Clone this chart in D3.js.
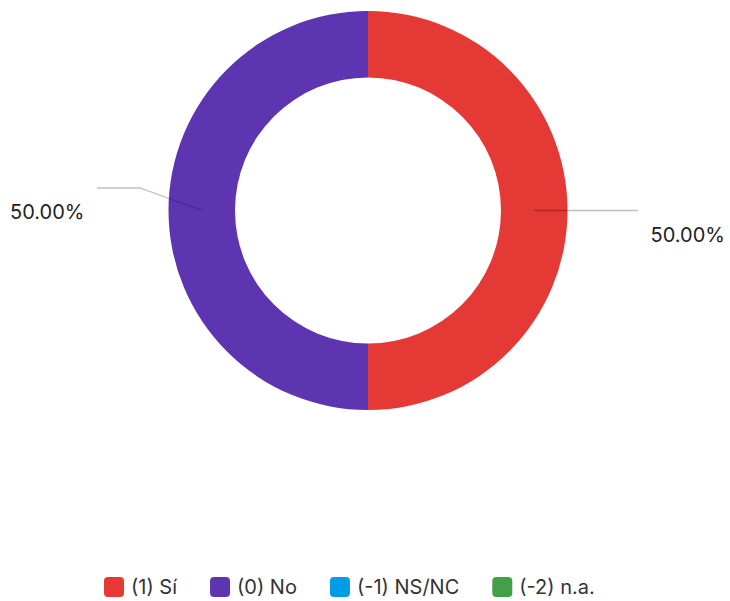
<!DOCTYPE html>
<html>
<head>
<meta charset="utf-8">
<script src="https://cdn.jsdelivr.net/npm/d3@7"></script>
<style>
  body { margin: 0; background: #fff; }
  text { font-family: Inter, "Noto Sans", sans-serif; fill: #222; }
</style>
</head>
<body>
<div id="chart"></div>
<script>
var categories = ["(1) Sí", "(0) No", "(-1) NS/NC", "(-2) n.a."];
var values = [1, 1, 0, 0];
var percentLabels = ["50.00%", "50.00%", "", ""];
var colors = ["#e53935", "#5e35b1", "#039be5", "#43a047"];

var width = 730, height = 601;
var cx = 368, cy = 210.5;
var outerR = 199.5, innerR = 133;

var svg = d3.select("#chart").append("svg")
  .attr("width", width)
  .attr("height", height);

var data = categories.map(function(c, i) {
  return { name: c, value: values[i], label: percentLabels[i], color: colors[i] };
});

var pie = d3.pie()
  .value(function(d) { return d.value; })
  .sort(null);

var arc = d3.arc()
  .innerRadius(innerR)
  .outerRadius(outerR);

var g = svg.append("g")
  .attr("transform", "translate(" + cx + "," + cy + ")");

var arcs = pie(data).filter(function(d) { return d.value > 0; });

g.selectAll("path.slice")
  .data(arcs)
  .enter()
  .append("path")
  .attr("class", "slice")
  .attr("d", arc)
  .attr("fill", function(d) { return d.data.color; });

// leader lines + labels (placed by hand like the original layout)
var labelPos = [
  { pts: [[534 - cx, 0], [638 - cx, 0]], tx: 725 - cx, ty: 242 - cy, anchor: "end" },
  { pts: [[202 - cx, 0], [140 - cx, 188 - cy], [97 - cx, 188 - cy]], tx: 10 - cx, ty: 218.5 - cy, anchor: "start" }
];

arcs.forEach(function(d, i) {
  var p = labelPos[i];
  g.append("path")
    .attr("d", d3.line()(p.pts))
    .attr("fill", "none")
    .attr("stroke", "rgba(0,0,0,0.25)")
    .attr("stroke-width", 1.3);
  g.append("text")
    .attr("x", p.tx)
    .attr("y", p.ty)
    .attr("text-anchor", p.anchor)
    .style("font-size", "20px")
    .text(d.data.label);
});

// legend
var legend = svg.append("g").attr("transform", "translate(104,577)");
var lx = 0;
data.forEach(function(d) {
  var item = legend.append("g").attr("transform", "translate(" + lx + ",0)");
  item.append("rect")
    .attr("width", 20)
    .attr("height", 20)
    .attr("rx", 4)
    .attr("fill", d.color);
  var t = item.append("text")
    .attr("x", 27)
    .attr("y", 17)
    .style("font-size", "20px")
    .style("fill", "#333")
    .text(d.name);
  lx += 27 + t.node().getComputedTextLength() + 33;
});
</script>
</body>
</html>
